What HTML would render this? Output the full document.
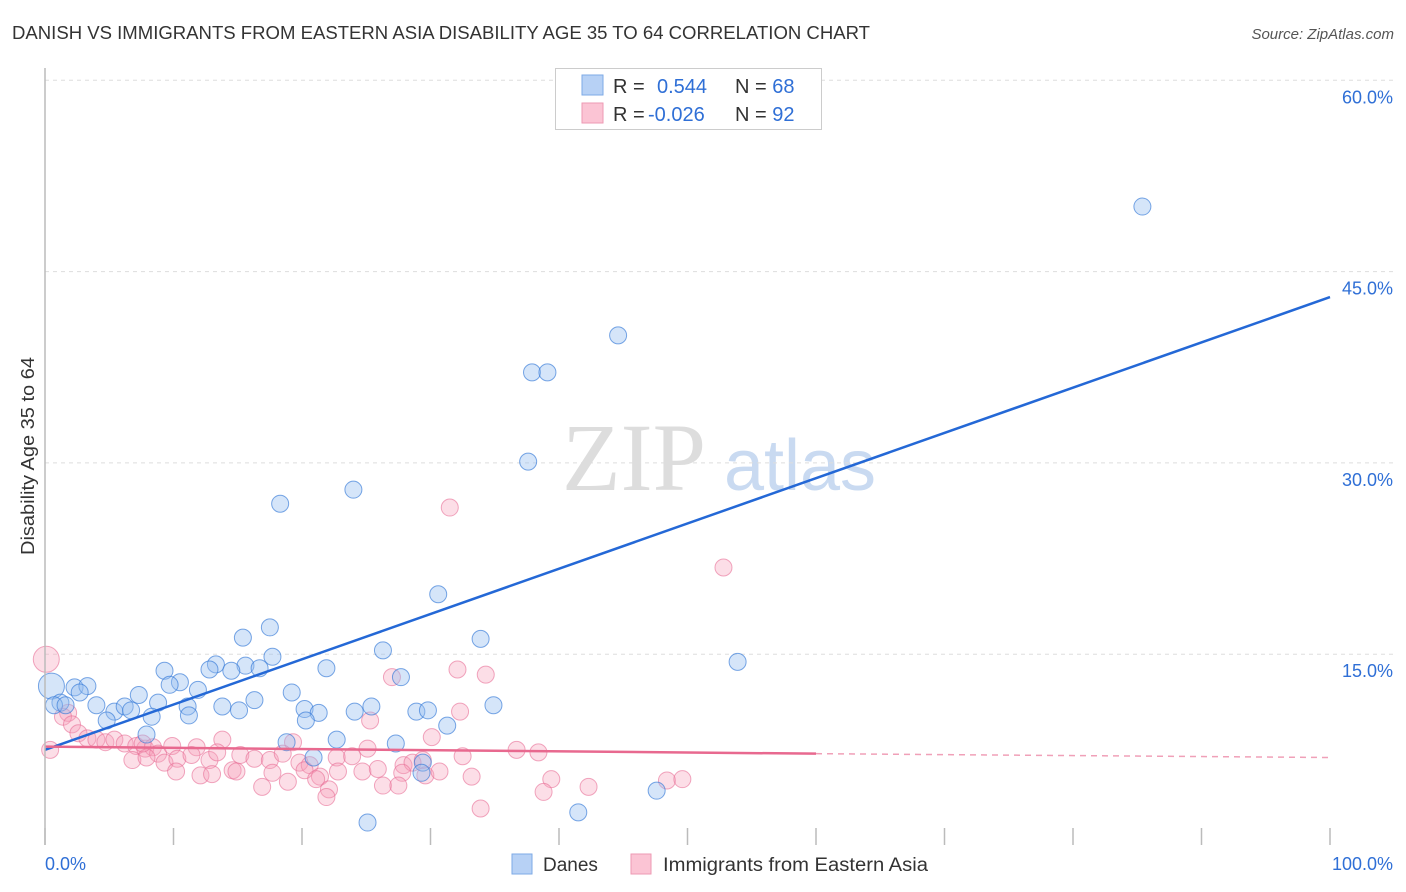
<!DOCTYPE html>
<html><head><meta charset="utf-8"><style>
body{margin:0;background:#fff;font-family:"Liberation Sans",sans-serif;}
#wrap{position:relative;width:1406px;height:892px;overflow:hidden;}
</style></head><body>
<div id="wrap">
<svg id="svg" width="1406" height="892" xmlns="http://www.w3.org/2000/svg">
<text x="12" y="39" font-size="18" fill="#333" textLength="858" lengthAdjust="spacingAndGlyphs">DANISH VS IMMIGRANTS FROM EASTERN ASIA DISABILITY AGE 35 TO 64 CORRELATION CHART</text>
<text x="1394" y="39" font-size="15" fill="#555" font-style="italic" text-anchor="end">Source: ZipAtlas.com</text>
<text x="34" y="456" font-size="18" fill="#333" text-anchor="middle" textLength="198" lengthAdjust="spacingAndGlyphs" transform="rotate(-90 34 456)">Disability Age 35 to 64</text>
<g>
<text x="634" y="490" font-size="96" fill="#ddd" font-family="Liberation Serif,serif" text-anchor="middle">ZIP</text>
<text x="800" y="490" font-size="72" fill="#c9daf1" text-anchor="middle">atlas</text>
</g>
<g id="grid"></g><g id="ticks"></g><g id="pts"></g><g id="lines"></g>
<line x1="45" y1="68" x2="45" y2="845" stroke="#bbb" stroke-width="1.5"/>
<g>
<rect x="555.5" y="68.5" width="266" height="61" fill="#fff" stroke="#ccc"/>
<rect x="582" y="75" width="21" height="20" fill="#b7d1f5" stroke="#7eaae6"/>
<rect x="582" y="103" width="21" height="20" fill="#fbc4d4" stroke="#ee9ab3"/>
<text x="613" y="93" font-size="20" fill="#333">R = <tspan x="657" fill="#2f6fd6">0.544</tspan><tspan x="735" fill="#333">N = </tspan><tspan fill="#2f6fd6">68</tspan></text>
<text x="613" y="121" font-size="20" fill="#333">R = <tspan x="648" fill="#2f6fd6">-0.026</tspan><tspan x="735" fill="#333">N = </tspan><tspan fill="#2f6fd6">92</tspan></text>
</g>
<g>
<rect x="512" y="854" width="20" height="20" fill="#b7d1f5" stroke="#7eaae6"/>
<text x="543" y="871" font-size="19" fill="#333">Danes</text>
<rect x="631" y="854" width="20" height="20" fill="#fbc4d4" stroke="#ee9ab3"/>
<text x="663" y="871" font-size="19" fill="#333" textLength="265" lengthAdjust="spacingAndGlyphs">Immigrants from Eastern Asia</text>
</g>
</svg>
</div>
<script>
const yTicks=[15,30,45,60];
const yTickLabels=["15.0%","30.0%","45.0%","60.0%"];
const xTickLabels=["0.0%","100.0%"];
const daneX=[85.4,44.6,37.9,39.1,37.6,24.0,18.3,30.6,17.5,15.4,33.9,53.9,26.3,17.7,9.3,13.3,12.8,15.6,16.7,14.5,21.9,27.7,10.5,9.7,2.3,3.3,0.5,11.9,2.7,7.3,19.2,16.3,8.8,4.0,1.2,0.7,1.6,13.8,15.1,11.1,20.2,24.1,25.4,28.9,29.8,34.9,5.4,6.2,6.7,11.2,8.3,4.8,21.3,20.3,31.3,7.9,22.7,18.8,27.3,20.9,29.4,29.3,47.6,41.5,25.1,45.8];
const daneY=[50.1,40.0,37.1,37.1,30.1,27.9,26.8,19.7,17.1,16.3,16.2,14.4,15.3,14.8,13.7,14.2,13.8,14.1,13.9,13.7,13.9,13.2,12.8,12.6,12.4,12.5,12.5,12.2,12.0,11.8,12.0,11.4,11.2,11.0,11.2,11.0,11.0,10.9,10.6,10.9,10.7,10.5,10.9,10.5,10.6,11.0,10.5,10.9,10.6,10.2,10.1,9.8,10.4,9.8,9.4,8.7,8.3,8.1,8.0,6.9,6.5,5.7,4.3,2.6,1.8,58.1];
const imX=[0.1,31.5,52.8,32.1,34.3,27.0,32.3,25.3,1.8,1.4,2.1,2.6,3.3,4.0,4.7,5.4,6.2,7.1,7.8,8.4,8.8,9.9,11.8,13.8,19.3,30.1,36.7,38.4,0.4,6.8,7.9,9.3,10.3,11.4,12.8,13.4,15.2,16.3,17.5,18.5,19.8,20.6,22.7,23.9,25.1,27.9,28.6,29.4,32.5,10.2,12.1,13.0,14.6,14.9,17.7,20.2,21.4,22.8,24.7,25.9,27.8,29.6,30.7,33.2,39.4,48.4,49.6,21.1,18.9,16.9,26.3,27.5,22.1,42.3,38.8,21.9,33.9,7.6];
const imY=[14.6,26.5,21.8,13.8,13.4,13.2,10.5,9.8,10.4,10.1,9.5,8.8,8.4,8.3,8.1,8.3,8.0,7.8,7.6,7.7,7.2,7.8,7.7,8.3,8.1,8.5,7.5,7.3,7.5,6.7,6.9,6.5,6.8,7.1,6.7,7.3,7.1,6.8,6.7,7.2,6.5,6.3,6.9,7.0,7.6,6.3,6.5,6.7,7.0,5.8,5.5,5.6,5.9,5.8,5.7,5.9,5.4,5.8,5.8,6.0,5.7,5.5,5.8,5.4,5.2,5.1,5.2,5.2,5.0,4.6,4.7,4.7,4.4,4.6,4.2,3.8,2.9,8.0];
const daneFit=[7.5,43.0];
const imFit=[7.75,7.2,6.9];
const NS="http://www.w3.org/2000/svg";
const X=v=>45+v*12.85, Y=v=>845.5-v*191.3/15;
function mk(tag,attrs,parent){const e=document.createElementNS(NS,tag);for(const k in attrs)e.setAttribute(k,attrs[k]);document.getElementById(parent).appendChild(e);return e;}
yTicks.forEach((t,i)=>{
 const g=mk('line',{x1:45,x2:1395,y1:Y(t),y2:Y(t),stroke:'#ddd','stroke-dasharray':'4,4'},'grid');
 
 
 const l=mk('text',{x:1393,y:Y(t)+23,'font-size':18,fill:'#2f6fd6','text-anchor':'end'},'ticks');
 l.textContent=yTickLabels[i];
 
 
});
for(let i=0;i<=10;i++){
 const t=mk('line',{x1:X(i*10),x2:X(i*10),y1:828,y2:845,stroke:'#bbb','stroke-width':1.5},'ticks');
 
 
}
[[0,45,'start'],[100,1393,'end']].forEach((a,i)=>{
 const l=mk('text',{x:a[1],y:870,'font-size':18,fill:'#2f6fd6','text-anchor':a[2]},'ticks');
 l.textContent=xTickLabels[i];
 
 
});
imX.forEach((x,i)=>{
 const big=i===0;
 const c=mk('circle',{cx:X(x),cy:Y(imY[i]),r:big?13:8.5,fill:'rgba(247,160,187,0.35)',stroke:'rgba(232,110,150,0.6)','stroke-width':1},'pts');
 
 
});
daneX.forEach((x,i)=>{
 const big=i===26;
 const c=mk('circle',{cx:X(x),cy:Y(daneY[i]),r:big?13:8.5,fill:'rgba(150,190,240,0.4)',stroke:'rgba(50,120,215,0.65)','stroke-width':1},'pts');
 
 
});
const bl=mk('line',{x1:X(0),y1:Y(daneFit[0]),x2:X(100),y2:Y(daneFit[1]),stroke:'#2468d6','stroke-width':2.5},'lines');


const pl=mk('line',{x1:X(0),y1:Y(imFit[0]),x2:X(60),y2:Y(imFit[1]),stroke:'#e8698f','stroke-width':2.5},'lines');


const pd=mk('line',{x1:X(60),y1:Y(imFit[1]),x2:X(100),y2:Y(imFit[2]),stroke:'#f0a0b8','stroke-width':1.5,'stroke-dasharray':'6,5'},'lines');


</script>
</body></html>
